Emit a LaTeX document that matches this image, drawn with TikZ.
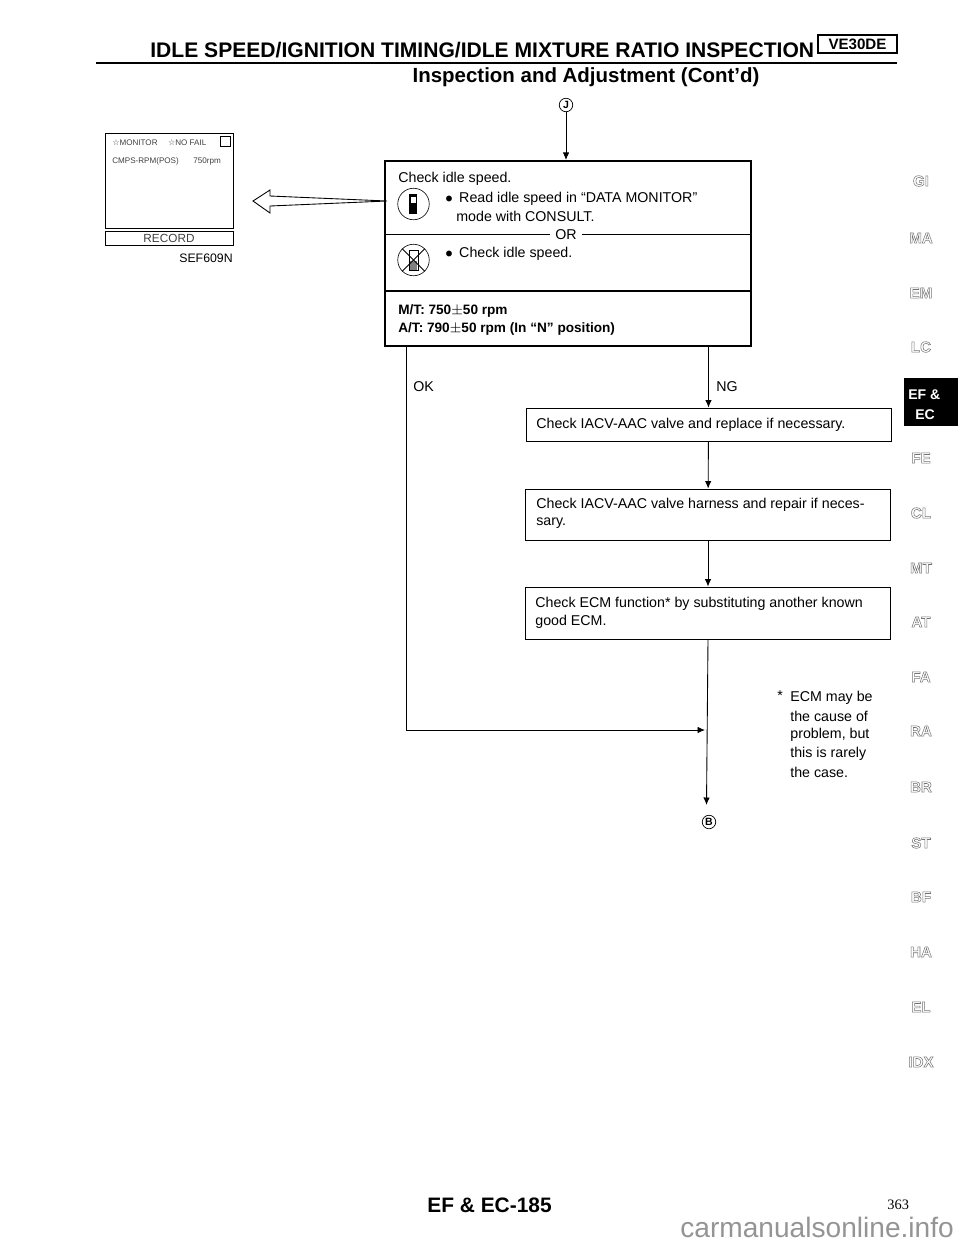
\documentclass[tikz,border=0pt]{standalone}
\usepackage{fontspec}
\setmainfont{Liberation Sans}
\newfontfamily\symfont{DejaVu Sans}
\newfontfamily\pagefont{Liberation Serif}
\usetikzlibrary{positioning,arrows.meta,calc}
\newcommand{\fsz}[1]{\fontsize{#1}{#1}\selectfont}
\newcommand{\outlined}[1]{\special{pdf:code q 0.45 G 1 Tr 0.3 w}#1\special{pdf:code Q}}
\definecolor{markgray}{gray}{0.58}

\begin{document}
\begin{tikzpicture}[
  x=0.02cm, y=-0.02cm,
  txt/.style={anchor=west, inner sep=0pt, yshift=-0.03cm, font=\fsz{8.1}},
  bold/.style={anchor=west, inner sep=0pt, yshift=-0.03cm, font=\fsz{7.75}\bfseries},
  stepbox/.style={draw, line width=0.5pt, minimum width=7.3cm, inner sep=0pt},
  tab/.style={inner sep=0pt, font=\fsz{8.6}\bfseries},
  ring/.style={draw, circle, inner sep=0pt, minimum size=0.27cm, line width=0.4pt, font=\fsz{6}\bfseries},
  iconring/.style={draw, circle, inner sep=0pt, minimum size=0.63cm, line width=0.35pt},
  arr/.style={-{Latex[length=1.5mm,width=1.3mm]}, line width=0.5pt}
]
  \useasboundingbox (0,0) rectangle (960,1242);
  \clip (0,0) rectangle (960,1242);

  % Heading
  \node[inner sep=0pt, anchor=west, font=\fsz{12}\bfseries] (title) at (150,50) {IDLE SPEED/IGNITION TIMING/IDLE MIXTURE RATIO INSPECTION};
  \node[draw, line width=0.8pt, inner sep=0pt, minimum width=1.58cm, minimum height=0.36cm, font=\fsz{8.6}\bfseries] (engine) at (857.5,44) {VE30DE};
  \coordinate (ruleleft) at (96,63);
  \coordinate (ruleright) at (897,63);
  \draw[line width=1.4pt] (ruleleft) -- (ruleright);
  \node[inner sep=0pt, font=\fsz{11.65}\bfseries] (subtitle) at (586,77) {Inspection and Adjustment (Cont'd)};

  % Main box
  \node[ring] (jump) at (566,105) {J};
  \node[draw, line width=1.2pt, minimum width=7.32cm, minimum height=3.7cm, inner sep=0pt] (main) at (568,253.5) {};
  \node[txt] (idle) at (398,177) {Check idle speed.};
  \node[txt] (read) at (445,197) {$\bullet$\hspace{0.45em}Read idle speed in ``DATA MONITOR''};
  \node[txt] (mode) at (456,215) {mode with CONSULT.};
  \node[txt, anchor=center, fill=white, inner xsep=3pt] (or) at (566,233) {OR};
  \node[txt] (manual) at (445,252) {$\bullet$\hspace{0.45em}Check idle speed.};
  \coordinate (midrule) at (568,291);
  \node[bold] (mt) at (398,309) {M/T: 750$\pm$50 rpm};
  \node[bold] (at) at (398,327) {A/T: 790$\pm$50 rpm (In ``N'' position)};
  \draw[line width=0.6pt] (main.west |- or) -- (or) -- (main.east |- or);
  \draw[line width=0.6pt] (main.west |- midrule) -- (main.east |- midrule);
  \draw[arr] (jump) -- (jump |- main.north);

  % Icons
  \node[iconring] (consult) at (413.5,204) {};
  \fill (409,194) rectangle (417,214);
  \fill[white] (410.5,197) rectangle (415.5,203);
  \node[iconring] (noconsult) at (413.5,260) {};
  \draw[line width=0.4pt] (409,250) rectangle (418,270);
  \fill[gray] (410,261) rectangle (417,270);
  \draw[line width=0.5pt] (noconsult.north west) -- (noconsult.south east);
  \draw[line width=0.5pt] (noconsult.north east) -- (noconsult.south west);

  % Monitor
  \node[draw, line width=0.45pt, minimum width=2.56cm, minimum height=1.9cm, inner sep=0pt] (screen) at (169,180.5) {};
  \node[draw, line width=0.45pt, minimum width=2.56cm, minimum height=0.28cm, inner sep=0pt, font=\fsz{6.7}, text=black!75] (record) at (169,238) {RECORD};
  \node[anchor=east, inner sep=0pt, font=\fsz{7}] (code) at (233,258) {SEF609N};
  \node[anchor=west, inner sep=0pt, font=\fsz{4.6}, text=black!75] (monitor) at (112,143) {{\symfont☆}MONITOR\hspace{1.3em}{\symfont☆}NO FAIL};
  \node[draw, line width=0.4pt, minimum size=0.2cm, inner sep=0pt] (tick) at (225.5,141) {};
  \node[anchor=west, inner sep=0pt, font=\fsz{4.6}, text=black!75] (cmps) at (112,161) {CMPS-RPM(POS)\hspace{1.8em}750rpm};

  % Hollow arrow
  \coordinate (tail) at (387,201);
  \coordinate (tip) at (253,201);
  \draw[line width=0.5pt] (tail) -- (270,196) -- (270,190) -- (tip) -- (270,213) -- (270,206) -- cycle;

  % Checks
  \node[stepbox, minimum height=0.66cm] (valve) at (708.5,424.5) {};
  \node[txt] (valvetext) at (536,423) {Check IACV-AAC valve and replace if necessary.};
  \node[stepbox, minimum height=1.02cm] (harness) at (708,514.5) {};
  \node[txt] (harnesstext) at (536,503) {Check IACV-AAC valve harness and repair if neces-};
  \node[txt] (harnessend) at (536,522) {sary.};
  \node[stepbox, minimum height=1.04cm] (ecm) at (708,613) {};
  \node[txt] (ecmtext) at (535,602) {Check ECM function* by substituting another known};
  \node[txt] (ecmend) at (535,620) {good ECM.};

  % Flow
  \node[txt] (ok) at (413,385) {OK};
  \node[txt] (ng) at (716,385) {NG};
  \draw[arr] (main.south -| valve.north) -- (valve.north);
  \draw[arr] (valve) -- (harness);
  \draw[arr] (harness) -- (ecm);
  \node[ring] (back) at (709,822) {B};
  \coordinate (backend) at (706.5,805);
  \draw[arr] (ecm.south) -- (backend);
  \coordinate (okturn) at (406.5,730);
  \coordinate (okjoin) at (705,730);
  \draw[arr] (main.south -| okturn) -- (okturn) -- (okjoin);

  % Footnote
  \node[txt] (star) at (777,694) {*};
  \node[txt] (noteA) at (790,696) {ECM may be};
  \node[txt] (noteB) at (790,715) {the cause of};
  \node[txt] (noteC) at (790,733) {problem, but};
  \node[txt] (noteD) at (790,752) {this is rarely};
  \node[txt] (noteE) at (790,771) {the case.};

  % Section tabs
  \foreach \lab/\ypos in {GI/181,MA/238,EM/293,LC/347,FE/458,CL/513,MT/568,AT/622,FA/677,RA/731,BR/787,ST/843,BF/897,HA/952,EL/1007,IDX/1062}
    \node[tab] (tab\lab) at (921,\ypos) {\outlined{\lab}};
  \node[fill=black, minimum width=1.08cm, minimum height=0.96cm, inner sep=0pt] (active) at (931,402) {};
  \node[inner sep=0pt, anchor=west, font=\fsz{8}\bfseries, text=white] (activeA) at (908,395) {EF \&};
  \node[inner sep=0pt, anchor=west, font=\fsz{8}\bfseries, text=white] (activeB) at (915,415) {EC};

  % Footer
  \node[inner sep=0pt, anchor=west, font=\fsz{11.9}\bfseries] (page) at (427,1205) {EF \& EC-185};
  \node[inner sep=0pt, anchor=west, font=\fsz{8.2}\pagefont] (sheet) at (887,1205) {363};
  \node[inner sep=0pt, anchor=west, font=\fsz{16}, text=markgray] (mark) at (680,1227) {carmanualsonline.info};
\end{tikzpicture}
\end{document}
